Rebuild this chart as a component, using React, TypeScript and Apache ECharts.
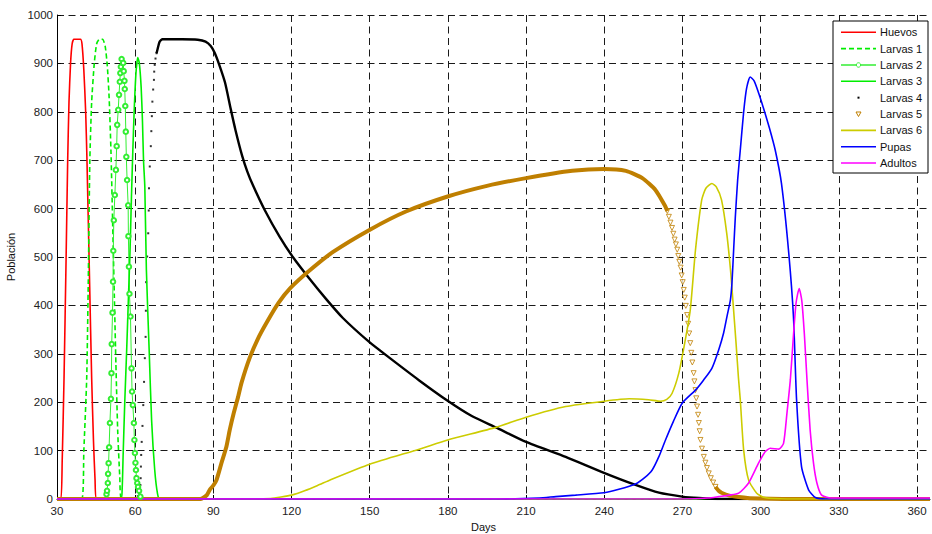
import React, { useEffect, useRef } from 'react';
import * as echarts from 'echarts';

type P = [number, number];

const seriesNames = ['Huevos', 'Larvas 1', 'Larvas 2', 'Larvas 3', 'Larvas 4', 'Larvas 5', 'Larvas 6', 'Pupas', 'Adultos'];

const huevos: P[] = [[30, 0], [31.5, 0], [32, 80], [32.7, 250], [33.5, 500], [34.1, 700], [34.6, 820], [35.2, 900], [35.8, 940], [36.5, 950], [39, 950], [39.6, 940], [40.3, 886], [41, 800], [41.5, 700], [42.5, 450], [43.3, 250], [44, 120], [44.6, 40], [45.2, 0], [365, 0]];

const larvas1: P[] = [[30, 0], [39.5, 0], [40.3, 100], [41.4, 250], [42, 450], [42.6, 700], [43.3, 820], [44.3, 900], [45.2, 940], [46.3, 950], [47.5, 950], [48.5, 935], [49.3, 895], [50, 830], [50.7, 720], [51.4, 560], [52, 420], [52.6, 280], [53.3, 140], [54.1, 45], [54.8, 0], [365, 0]];

const larvas2: P[] = [[30, 0], [48.5, 0], [49, 10], [49.2, 17], [49.5, 33], [49.6, 52], [49.8, 74], [50, 107], [50.3, 157], [50.7, 207], [50.9, 260], [51, 320], [51.3, 385], [51.5, 449], [51.6, 513], [51.8, 576], [52.2, 628], [52.6, 680], [52.9, 729], [53.1, 773], [53.5, 804], [53.8, 835], [54.1, 862], [54.3, 880], [54.5, 893], [54.8, 909], [55.4, 901], [55.6, 884], [55.9, 864], [56, 847], [56.2, 812], [56.4, 759], [56.6, 707], [56.9, 659], [57.3, 607], [57.4, 543], [57.6, 480], [57.8, 424], [58.2, 377], [58.6, 270], [58.8, 222], [59.1, 194], [59.5, 157], [59.7, 122], [59.9, 95], [60.1, 75], [60.3, 60], [60.5, 43], [60.8, 33], [61.1, 25], [61.5, 17], [62, 5], [63, 0], [365, 0]];

const larvas3: P[] = [[30, 0], [54.5, 0], [55, 20], [55.4, 95], [56, 200], [56.7, 302], [57.5, 430], [58, 508], [58.6, 630], [59.1, 720], [59.6, 800], [60.3, 880], [61, 912], [61.6, 900], [62.3, 850], [62.8, 780], [63.2, 700], [63.7, 645], [64.3, 473], [65.4, 302], [66.3, 163], [67.5, 60], [68.6, 10], [69.5, 0], [365, 0]];

const larvas4Sparse: P[] = [[60.5, 2], [61, 6], [61.5, 12], [61.8, 19], [62, 29], [62.1, 43], [62.2, 67], [62.3, 91], [62.5, 118], [62.8, 151], [63.1, 194], [63.4, 242], [63.7, 291], [64, 335], [64.1, 389], [64.2, 448], [64.6, 501], [65, 549], [65.2, 596], [65.3, 642], [65.6, 687], [66, 729], [66.2, 760], [66.4, 791], [66.6, 821], [66.9, 846], [67.2, 866], [67.3, 883], [67.5, 897], [67.8, 910], [68.2, 921]];

const larvas4Dense: P[] = [[68.2, 921], [68.8, 934], [69.4, 945], [70.5, 950], [78, 950], [84, 949], [87, 945], [89, 936], [90.5, 922], [92.4, 895], [94.5, 860], [96.7, 805], [98.5, 762], [101, 710], [103, 677], [105.2, 648], [109.7, 597], [115.4, 542], [120.5, 500], [126.9, 455], [133.3, 413], [139.7, 374], [149.9, 324], [157.5, 292], [169, 245], [179.9, 203], [189, 172], [198.4, 148], [210, 118], [225.2, 87], [239.9, 54], [252, 29], [261, 13], [269.9, 5], [276.3, 2], [285, 0], [365, 0]];

const larvas5Dense: P[] = [[30, 0], [85, 0], [86, 2], [87.5, 8], [88.6, 19], [90, 28], [91.2, 39], [93.1, 74], [95, 108], [96.3, 143], [97.8, 177], [99.5, 211], [100.8, 240], [103.9, 291], [107, 330], [110.3, 363], [115, 405], [119.6, 436], [126.9, 472], [135.8, 510], [149.9, 556], [163.9, 594], [179.9, 625], [195, 647], [210, 663], [227.7, 678], [240, 682], [248.3, 678], [254.6, 663], [259.7, 638], [263.5, 604], [264.2, 595]];

const larvas5Sparse: P[] = [[264.2, 595], [264.8, 583], [265.4, 571], [266, 560], [266.5, 548], [267, 536], [267.5, 526], [268, 515], [268.4, 502], [268.8, 490], [269.3, 478], [269.7, 462], [270.1, 448], [270.5, 432], [270.9, 416], [271.3, 399], [271.8, 380], [272.2, 362], [272.6, 342], [273, 322], [273.4, 302], [273.8, 282], [274.3, 260], [274.6, 243], [275, 225], [275.3, 208], [275.6, 191], [276, 174], [276.3, 157], [276.6, 140], [276.9, 122], [277.5, 104], [278.2, 87], [278.8, 75], [279.4, 64], [280.1, 53], [280.9, 43], [281.8, 34], [282.7, 25]];

const larvas5Tail: P[] = [[282.7, 25], [283.9, 17], [285, 13], [288, 7], [291.6, 4], [295, 2], [300, 1], [310, 0], [365, 0]];

const larvas6: P[] = [[30, 0], [105, 0], [112, 1], [116, 4], [120, 8], [125, 17], [130, 28], [135, 40], [150, 72], [169, 103], [179.9, 122], [198.4, 148], [210, 169], [225.2, 191], [240, 202], [249.6, 207], [257, 205], [261.6, 202], [264, 206], [266, 218], [268.6, 260], [270.8, 320], [273, 390], [275, 514], [277.4, 618], [279, 642], [281.3, 652], [283, 645], [285, 618], [287, 549], [288.5, 470], [289.5, 400], [290.6, 320], [291.5, 250], [292.2, 205], [293.5, 101], [295.4, 39], [298.5, 12], [301.5, 3], [310, 0], [365, 0]];

const pupas: P[] = [[30, 0], [200, 0], [215, 2], [221.4, 5], [229, 8], [239.9, 13], [245.6, 20], [252, 31], [255.5, 44], [258.4, 60], [261, 88], [263.5, 122], [266.5, 160], [269.9, 198], [275, 225], [278, 245], [281.3, 270], [283.9, 308], [285.8, 343], [287.2, 380], [288.4, 411], [289, 446], [289.7, 520], [290.3, 583], [291.2, 660], [292.2, 721], [293.5, 800], [294.6, 848], [296, 872], [297.5, 864], [299.3, 838], [301.2, 806], [303.3, 768], [305.6, 721], [308, 652], [310.7, 514], [312.6, 377], [313.8, 205], [315.7, 67], [318.4, 19], [321, 3], [325, 0], [365, 0]];

const adultos: P[] = [[30, 0], [270, 0], [280, 2], [284, 5], [288, 8], [291.6, 12], [295.4, 33], [299.2, 74], [301.8, 98], [303.7, 105], [307, 103], [308.8, 115], [310.1, 177], [311.4, 246], [312.5, 330], [313.6, 405], [314.8, 435], [315.8, 410], [316.8, 340], [317.8, 246], [319, 143], [320.3, 74], [321.6, 33], [323.4, 8], [327, 2], [365, 2]];

const colors = {
  huevos: '#ff0000',
  l1: '#00ee00',
  l2: '#33ee33',
  l3: '#00ee00',
  l4: '#000000',
  l5: '#bf7f00',
  l6: '#cccc00',
  pupas: '#0000ff',
  adultos: '#ff00ff',
};

const FONT = '"Liberation Sans", Arial, Helvetica, sans-serif';

function lineSeries(name: string, data: P[], color: string, width = 1.6, extra: any = {}) {
  return {
    type: 'line',
    name,
    data,
    symbol: 'none',
    showSymbol: false,
    smooth: 0.2,
    lineStyle: { color, width },
    itemStyle: { color },
    silent: true,
    ...extra,
  };
}

const legendColors: Record<string, string> = {
  Huevos: colors.huevos,
  'Larvas 1': colors.l1,
  'Larvas 2': colors.l2,
  'Larvas 3': colors.l3,
  'Larvas 4': colors.l4,
  'Larvas 5': colors.l5,
  'Larvas 6': colors.l6,
  Pupas: colors.pupas,
  Adultos: colors.adultos,
};

function buildLegend() {
  const left = 833, top = 21, w = 95, h = 152;
  const children: any[] = [
    { type: 'rect', shape: { x: left, y: top, width: w, height: h }, style: { fill: '#fff', stroke: '#000', lineWidth: 1 }, z: 100 },
  ];
  seriesNames.forEach((name, i) => {
    const y = 32.3 + i * 16.34;
    const c = legendColors[name];
    const x1 = 841, x2 = 876, xm = 858.5;
    if (name === 'Larvas 4') {
      children.push({ type: 'rect', shape: { x: xm - 1, y: y - 1, width: 2, height: 2 }, style: { fill: c }, z: 101 });
    } else if (name === 'Larvas 5') {
      children.push({ type: 'polygon', shape: { points: [[xm - 2.5, y - 2], [xm + 2.5, y - 2], [xm, y + 2.5]] }, style: { fill: '#fff', stroke: c, lineWidth: 1 }, z: 101 });
    } else {
      children.push({
        type: 'line',
        shape: { x1, y1: y, x2, y2: y },
        style: { stroke: c, lineWidth: 1.6, lineDash: name === 'Larvas 1' ? [5, 3] : null },
        z: 101,
      });
      if (name === 'Larvas 2') {
        children.push({ type: 'circle', shape: { cx: xm, cy: y, r: 2.2 }, style: { fill: '#fff', stroke: c, lineWidth: 1 }, z: 102 });
      }
    }
    children.push({
      type: 'text',
      x: 880,
      y,
      style: { text: name, fill: '#111', font: `11px ${FONT}`, textAlign: 'left', textVerticalAlign: 'middle' },
      z: 101,
    });
  });
  return children;
}

const gridLine = { color: '#1a1a1a', type: [7, 4.5], width: 1 };

export default function App() {
  const ref = useRef<HTMLDivElement>(null);
  useEffect(() => {
    const chart = echarts.init(ref.current!, null, { renderer: 'svg' });
    const option: any = {
      animation: false,
      backgroundColor: '#fff',
      grid: { left: 57, right: 2, top: 15, bottom: 35, containLabel: false, outerBoundsMode: 'none' },
      xAxis: {
        type: 'value',
        min: 30,
        max: 365,
        interval: 30,
        name: 'Days',
        nameLocation: 'middle',
        nameGap: 19,
        nameTextStyle: { fontFamily: FONT, fontSize: 11, color: '#111', padding: [0, 20, 0, 0] },
        axisLine: { show: true, onZero: false, lineStyle: { color: '#000', width: 1 } },
        axisTick: { show: true, inside: true, length: 4, lineStyle: { color: '#000' } },
        axisLabel: { fontFamily: FONT, fontSize: 11.5, color: '#222', margin: 6, showMaxLabel: false, formatter: (v: number) => String(v) },
        splitLine: { show: true, showMinLine: false, showMaxLine: false, lineStyle: gridLine },
      },
      yAxis: {
        type: 'value',
        min: 0,
        max: 1000,
        interval: 100,
        name: 'Población',
        nameLocation: 'middle',
        nameGap: 38,
        nameTextStyle: { fontFamily: FONT, fontSize: 11, color: '#111' },
        axisLine: { show: true, onZero: false, lineStyle: { color: '#000', width: 1 } },
        axisTick: { show: true, inside: true, length: 4, lineStyle: { color: '#000' } },
        axisLabel: { fontFamily: FONT, fontSize: 11.5, color: '#222', margin: 4, formatter: (v: number) => String(v) },
        splitLine: { show: true, showMinLine: false, showMaxLine: true, lineStyle: gridLine },
      },
      series: [
        lineSeries('Huevos', huevos, colors.huevos),
        lineSeries('Larvas 1', larvas1, colors.l1, 1.6, { lineStyle: { color: colors.l1, width: 1.6, type: [5, 3] } }),
        {
          type: 'line',
          name: 'Larvas 2',
          data: larvas2.map((p) => (p[1] === 0 ? { value: p, symbol: 'none' } : { value: p })),
          symbol: 'emptyCircle',
          symbolSize: 4.5,
          showSymbol: true,
          showAllSymbol: true,
          lineStyle: { color: colors.l2, width: 1 },
          itemStyle: { color: colors.l2, borderWidth: 1 },
          silent: true,
        },
        lineSeries('Larvas 3', larvas3, colors.l3),
        {
          type: 'scatter',
          name: 'Larvas 4',
          data: larvas4Sparse,
          symbol: 'rect',
          symbolSize: 2,
          itemStyle: { color: colors.l4 },
          silent: true,
        },
        lineSeries('Larvas 4', larvas4Dense, colors.l4, 2.4),
        lineSeries('Larvas 5', larvas5Dense, colors.l5, 4),
        {
          type: 'scatter',
          name: 'Larvas 5',
          data: larvas5Sparse,
          symbol: 'triangle',
          symbolRotate: 180,
          symbolSize: 5,
          itemStyle: { color: '#fff', borderColor: colors.l5, borderWidth: 1 },
          silent: true,
        },
        lineSeries('Larvas 5', larvas5Tail, colors.l5, 4),
        lineSeries('Larvas 6', larvas6, colors.l6),
        lineSeries('Pupas', pupas, colors.pupas),
        lineSeries('Adultos', adultos, colors.adultos),
      ],
      graphic: buildLegend(),
    };
    chart.setOption(option);
    return () => chart.dispose();
  }, []);
  return <div ref={ref} style={{ position: 'fixed', left: 0, top: 0, width: 932, height: 534, background: '#fff' }} />;
}
